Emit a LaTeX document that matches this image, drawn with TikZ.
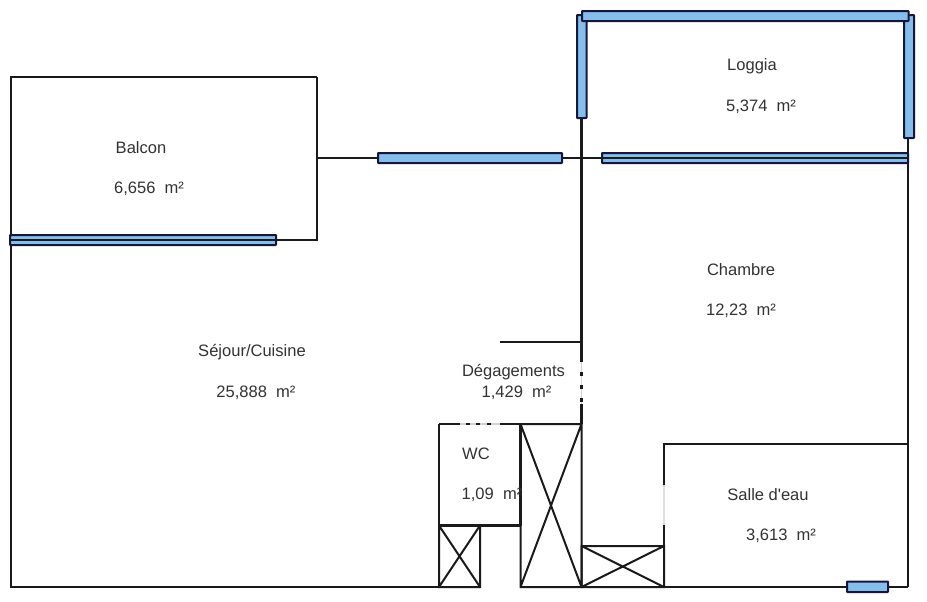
\documentclass[tikz,border=0pt]{standalone}
\usepackage{fontspec}
\setmainfont{Liberation Sans}
\usetikzlibrary{calc}
\definecolor{glass}{HTML}{85BDEB}
\definecolor{wallink}{HTML}{1A1A1A}
\definecolor{labelink}{HTML}{333333}
\tikzset{
	wall/.style={line width=1.9pt, color=wallink},
	thinwall/.style={line width=1.5pt, color=wallink},
	pane/.style={line width=1.5pt, draw=wallink!85!blue, fill=glass, rounded corners=0.4pt},
	roomlabel/.style={font=\fontsize{12.4}{14}\selectfont, text=labelink, inner sep=0pt}
}
\def\crossbox(#1,#2)(#3,#4){\draw[thinwall] (#1,#2) rectangle (#3,#4) (#1,#2) -- (#3,#4) (#1,#4) -- (#3,#2);}
\begin{document}
\begin{tikzpicture}[x=0.75pt, y=-0.75pt]
		%%%%% START %%%%%
		\useasboundingbox (0, 0) rectangle (927, 601);
		\fill[white] (0, 0) rectangle (927, 601);
		
		% outer walls
		\draw[thinwall] (10.5, 587) -- (10.5, 77) -- (317, 77);
		\draw[wall] (317, 77) -- (317, 240) -- (276, 240);
		\draw[thinwall] (10, 587) -- (439, 587);
		\draw[thinwall] (520.5, 587) -- (908, 587);
		\draw[thinwall] (908, 138) -- (908, 587);
		
		% wall along the balconies
		\draw[thinwall] (317, 158) -- (378, 158);
		\draw[thinwall] (562, 158) -- (602, 158);
		
		% wall of the bedroom
		\draw[wall] (581.5, 118) -- (581.5, 362);
		\draw[line width=0.8pt, color=black!18] (581.5, 362) -- (581.5, 404);
		\foreach \y in {372, 385, 398}
			\draw[wall] (581.5, \y) -- (581.5, \y+3.5);
		\draw[wall] (581.5, 404) -- (581.5, 424);
		\draw[wall] (500, 342) -- (581.5, 342);
		
		% WC
		\draw[wall] (439, 424) -- (460, 424);
		\draw[line width=0.8pt, color=black!18] (460, 424) -- (500, 424);
		\foreach \x in {466, 476, 487}
			\draw[wall] (\x, 424) -- (\x+4, 424);
		\draw[wall] (500, 424) -- (581.5, 424);
		\draw[wall] (439, 424) -- (439, 587);
		\draw[wall] (520.5, 424) -- (520.5, 526);
		\draw[wall] (439, 525.5) -- (520.5, 525.5);
		
		% ducts
		\crossbox(439,525.5)(480,587)
		\crossbox(520.5,424)(581.5,587)
		\crossbox(581.5,546)(664,587)
		
		% Salle d'eau
		\draw[wall] (664, 546) -- (664, 525);
		\draw[line width=0.8pt, color=black!12] (664, 485) -- (664, 525);
		\draw[wall] (664, 485) -- (664, 444) -- (908, 444);
		\draw[wall] (664, 546) -- (664, 587);
		
		% windows
		\draw[pane] (378, 153) rectangle (562, 163);
		\draw[pane] (602, 153) rectangle (908, 163);
		\draw[thinwall] (602, 158) -- (908, 158);
		\draw[pane] (10, 235) rectangle (276, 245);
		\draw[thinwall] (10, 240) -- (276, 240);
		\draw[pane] (577, 15) rectangle (586.5, 118);
		\draw[pane] (904, 15) rectangle (914, 138);
		\draw[pane] (582, 11) rectangle (908.5, 21);
		\draw[pane] (847, 581.5) rectangle (888, 592);
		
		% labels
		\node[roomlabel] (balcon) at (141, 148) {Balcon};
		\node[roomlabel] (balconarea) at (149, 189) {6,656\ \ m²};
		\node[roomlabel] (loggia) at (752, 66) {Loggia};
		\node[roomlabel] (loggiaarea) at (761, 107) {5,374\ \ m²};
		\node[roomlabel] (chambre) at (741, 270) {Chambre};
		\node[roomlabel] (chambrearea) at (741, 311) {12,23\ \ m²};
		\node[roomlabel] (sejour) at (252, 352) {Séjour/Cuisine};
		\node[roomlabel] (sejourarea) at (256, 393) {25,888\ \ m²};
		\node[roomlabel] (degagements) at (513.5, 372) {Dégagements};
		\node[roomlabel] (degagementsarea) at (516.5, 393) {1,429\ \ m²};
		\node[roomlabel] (wc) at (476, 454) {WC};
		\node[roomlabel] (wcarea) at (492, 495) {1,09\ \ m²};
		\node[roomlabel] (salle) at (768, 495) {Salle d\textquotesingle eau};
		\node[roomlabel] (sallearea) at (781, 536) {3,613\ \ m²};
		
		%%%%% END %%%%%
	\end{tikzpicture}
\end{document}
